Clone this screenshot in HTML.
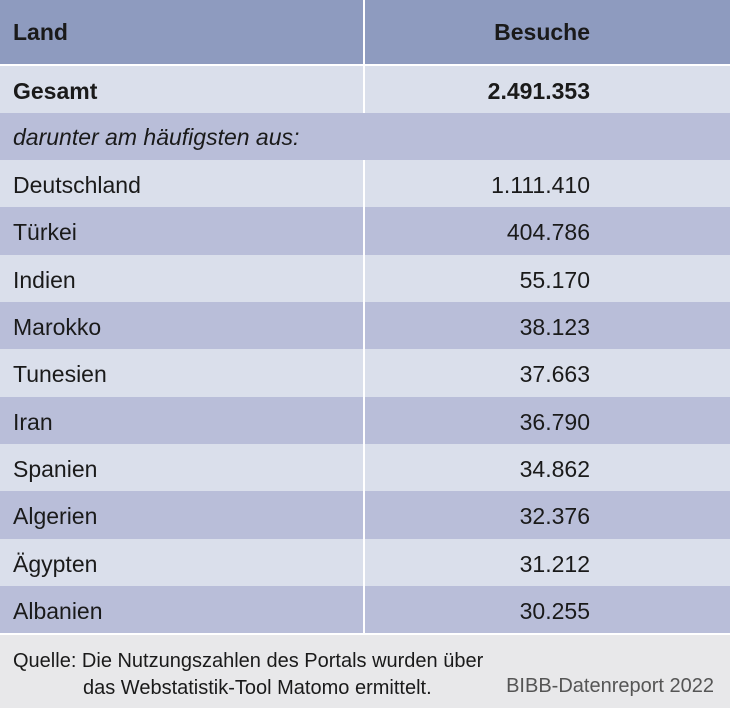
<!DOCTYPE html><html><head><style>
body{margin:0;width:730px;height:708px;background:#e8e8ea;font-family:"Liberation Sans Narrow","Liberation Sans",sans-serif;font-size:23px;color:#1a1a1a;position:relative;overflow:hidden}
.r{position:absolute;left:0;width:730px;box-sizing:border-box}
.l{position:absolute;left:13px}
.v{position:absolute;right:140px}
.d{position:absolute;left:363px;width:2px;background:#fff}
.a{background:#dadfeb}.b{background:#b9bed9}
</style></head><body>
<div class="r" style="top:0;height:64px;background:#8e9bbf;font-weight:bold"><span class="l" style="top:19px">Land</span><span class="v" style="top:19px">Besuche</span></div>
<div class="r a" style="top:66px;height:47px;font-weight:bold"><span class="l" style="top:12px">Gesamt</span><span class="v" style="top:12px">2.491.353</span></div>
<div class="r b" style="top:113px;height:47px;font-style:italic"><span class="l" style="top:11px">darunter am häufigsten aus:</span></div>
<div class="r a" style="top:160px;height:47px"><span class="l" style="top:12px">Deutschland</span><span class="v" style="top:12px">1.111.410</span></div>
<div class="r b" style="top:207px;height:48px"><span class="l" style="top:12px">Türkei</span><span class="v" style="top:12px">404.786</span></div>
<div class="r a" style="top:255px;height:47px"><span class="l" style="top:12px">Indien</span><span class="v" style="top:12px">55.170</span></div>
<div class="r b" style="top:302px;height:47px"><span class="l" style="top:12px">Marokko</span><span class="v" style="top:12px">38.123</span></div>
<div class="r a" style="top:349px;height:48px"><span class="l" style="top:12px">Tunesien</span><span class="v" style="top:12px">37.663</span></div>
<div class="r b" style="top:397px;height:47px"><span class="l" style="top:12px">Iran</span><span class="v" style="top:12px">36.790</span></div>
<div class="r a" style="top:444px;height:47px"><span class="l" style="top:12px">Spanien</span><span class="v" style="top:12px">34.862</span></div>
<div class="r b" style="top:491px;height:48px"><span class="l" style="top:12px">Algerien</span><span class="v" style="top:12px">32.376</span></div>
<div class="r a" style="top:539px;height:47px"><span class="l" style="top:12px">Ägypten</span><span class="v" style="top:12px">31.212</span></div>
<div class="r b" style="top:586px;height:47px"><span class="l" style="top:12px">Albanien</span><span class="v" style="top:12px">30.255</span></div>
<div class="d" style="top:0;height:113px"></div>
<div class="d" style="top:160px;height:473px"></div>
<div class="r" style="top:64px;height:2px;background:#fff"></div>
<div class="r" style="top:633px;height:2px;background:#fff"></div>
<div style="position:absolute;left:13px;top:648px;font-size:20px;line-height:27px">Quelle: Die Nutzungszahlen des Portals wurden über<br><span style="padding-left:70px">das Webstatistik-Tool Matomo ermittelt.</span></div>
<div style="position:absolute;right:16px;top:675px;font-size:20px;color:#555">BIBB-Datenreport 2022</div>
</body></html>
